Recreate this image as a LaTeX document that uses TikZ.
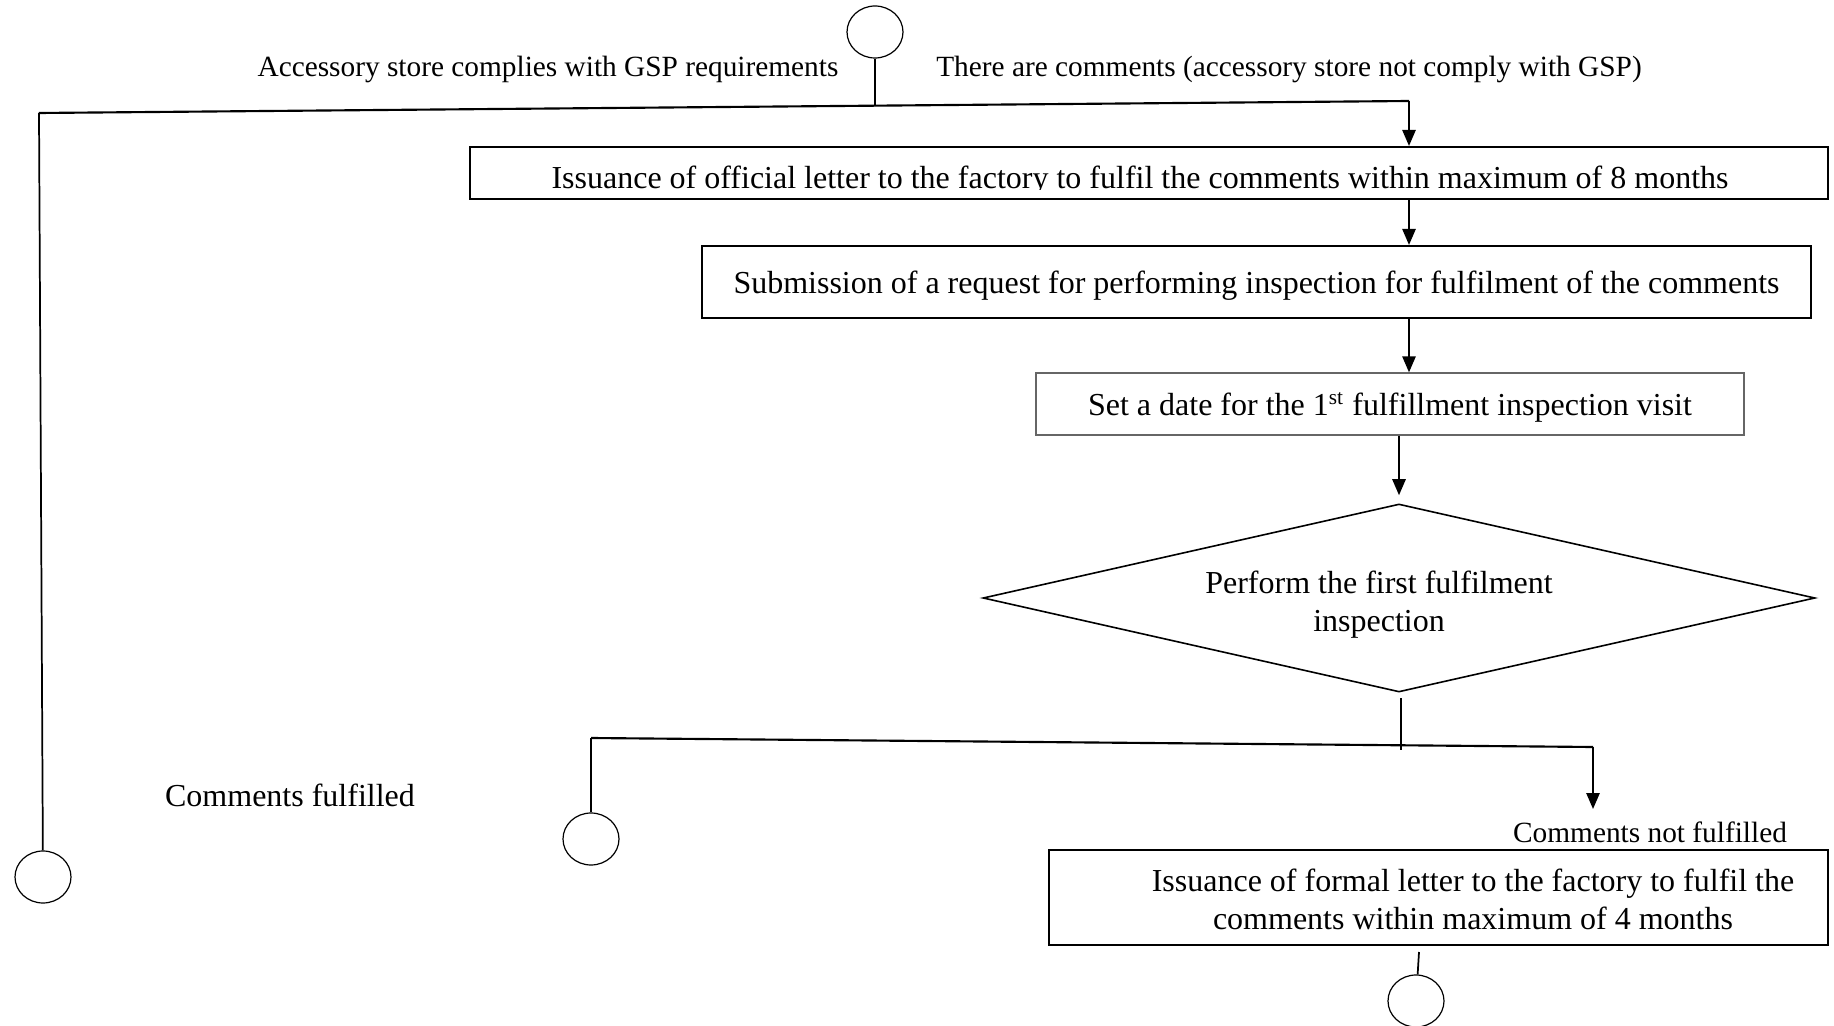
\documentclass[tikz,border=0pt]{standalone}
\usepackage{fontspec}
\setmainfont{Liberation Serif}
\usetikzlibrary{shapes.geometric,arrows.meta}

\tikzset{
  BoxStyle/.style = {draw, line width=0.8pt, inner sep=0pt, text depth=0pt},
  ThinBoxStyle/.style = {draw=black!60, line width=0.5pt, inner sep=0pt, text depth=0pt},
  DecisionStyle/.style = {draw, diamond, line width=0.6pt, inner sep=0pt,
    minimum width=312pt, minimum height=70.5pt},
  EndStyle/.style = {draw, ellipse, line width=0.45pt, inner sep=0pt,
    minimum width=21pt, minimum height=19.5pt},
  EdgeStyle/.style = {line width=0.65pt},
  ArrowStyle/.style = {EdgeStyle, -{Triangle[length=6pt,width=5pt]}},
  LabelStyle/.style = {font=\fontsize{11}{13}\selectfont, inner sep=0pt}
}

\begin{document}
\begin{tikzpicture}[x=0.375pt, y=-0.375pt, font=\fontsize{12}{14.25}\selectfont]
    \useasboundingbox (0,0) rectangle (1834,1026);

    \node[EndStyle] (start) at (875,32) {};
    \node[LabelStyle] (complies) at (548,69) {Accessory store complies with GSP requirements};
    \node[LabelStyle] (notComply) at (1289,69) {There are comments (accessory store not comply with GSP)};

    \node[BoxStyle, minimum width=509.25pt, minimum height=19.5pt] (letterA) at (1149,173) {};
    \begin{scope}
        \clip (470,147) rectangle (1828,190);
        \node[anchor=base] (letterAText) at (1140,188.5) {Issuance of official letter to the factory to fulfil the comments within maximum of 8 months};
    \end{scope}
    \node[BoxStyle, minimum width=415.9pt, minimum height=27pt] (request) at (1256.5,282) {Submission of a request for performing inspection for fulfilment of the comments};
    \node[ThinBoxStyle, minimum width=265.5pt, minimum height=23.25pt] (visitDate) at (1390,404) {Set a date for the 1\textsuperscript{st} fulfillment inspection visit};
    \node[DecisionStyle] (inspect) at (1399,598) {};
    \node[align=center] (inspectText) at (1379,605) {Perform the first fulfilment\\inspection};
    \node[BoxStyle, minimum width=292.1pt, minimum height=35.6pt] (letterB) at (1438.5,897.5) {};
    \node[align=center] (letterBText) at (1473,899) {Issuance of formal letter to the factory to fulfil the\\comments within maximum of 4 months};

    \node[EndStyle] (endA) at (43,877) {};
    \node[EndStyle] (endB) at (591,839) {};
    \node[EndStyle] (endC) at (1416,1001) {};
    \node (fulfilled) at (290,795) {Comments fulfilled};
    \node[LabelStyle] (notFulfilled) at (1650,832) {Comments not fulfilled};

    \coordinate (J1) at (875,106);
    \coordinate (L1) at (39,113);
    \coordinate (R1) at (1409,101);
    \coordinate (S1) at (1401,698);
    \coordinate (J2) at (1401,750);
    \coordinate (L2) at (591,738);
    \coordinate (R2) at (1593,747);
    \coordinate (R2end) at (1593,809);
    \coordinate (S4) at (1419,952);

    \draw[EdgeStyle] (start) -- (J1);
    \draw[EdgeStyle, line width=0.8pt] (L1) -- (R1);
    \draw[EdgeStyle] (L1) -- (endA);
    \draw[ArrowStyle] (R1) -- (R1 |- letterA.north);
    \draw[ArrowStyle] (R1 |- letterA.south) -- (R1 |- request.north);
    \draw[ArrowStyle] (request.south -| R1) -- (visitDate.north -| R1);
    \draw[ArrowStyle, shorten >=3pt] (visitDate.south -| inspect.north) -- (inspect.north);
    \draw[EdgeStyle] (S1) -- (J2);
    \draw[EdgeStyle, line width=0.8pt] (L2) -- (R2);
    \draw[EdgeStyle] (L2) -- (endB);
    \draw[ArrowStyle] (R2) -- (R2end);
    \draw[EdgeStyle] (S4) -- (endC);
\end{tikzpicture}
\end{document}
